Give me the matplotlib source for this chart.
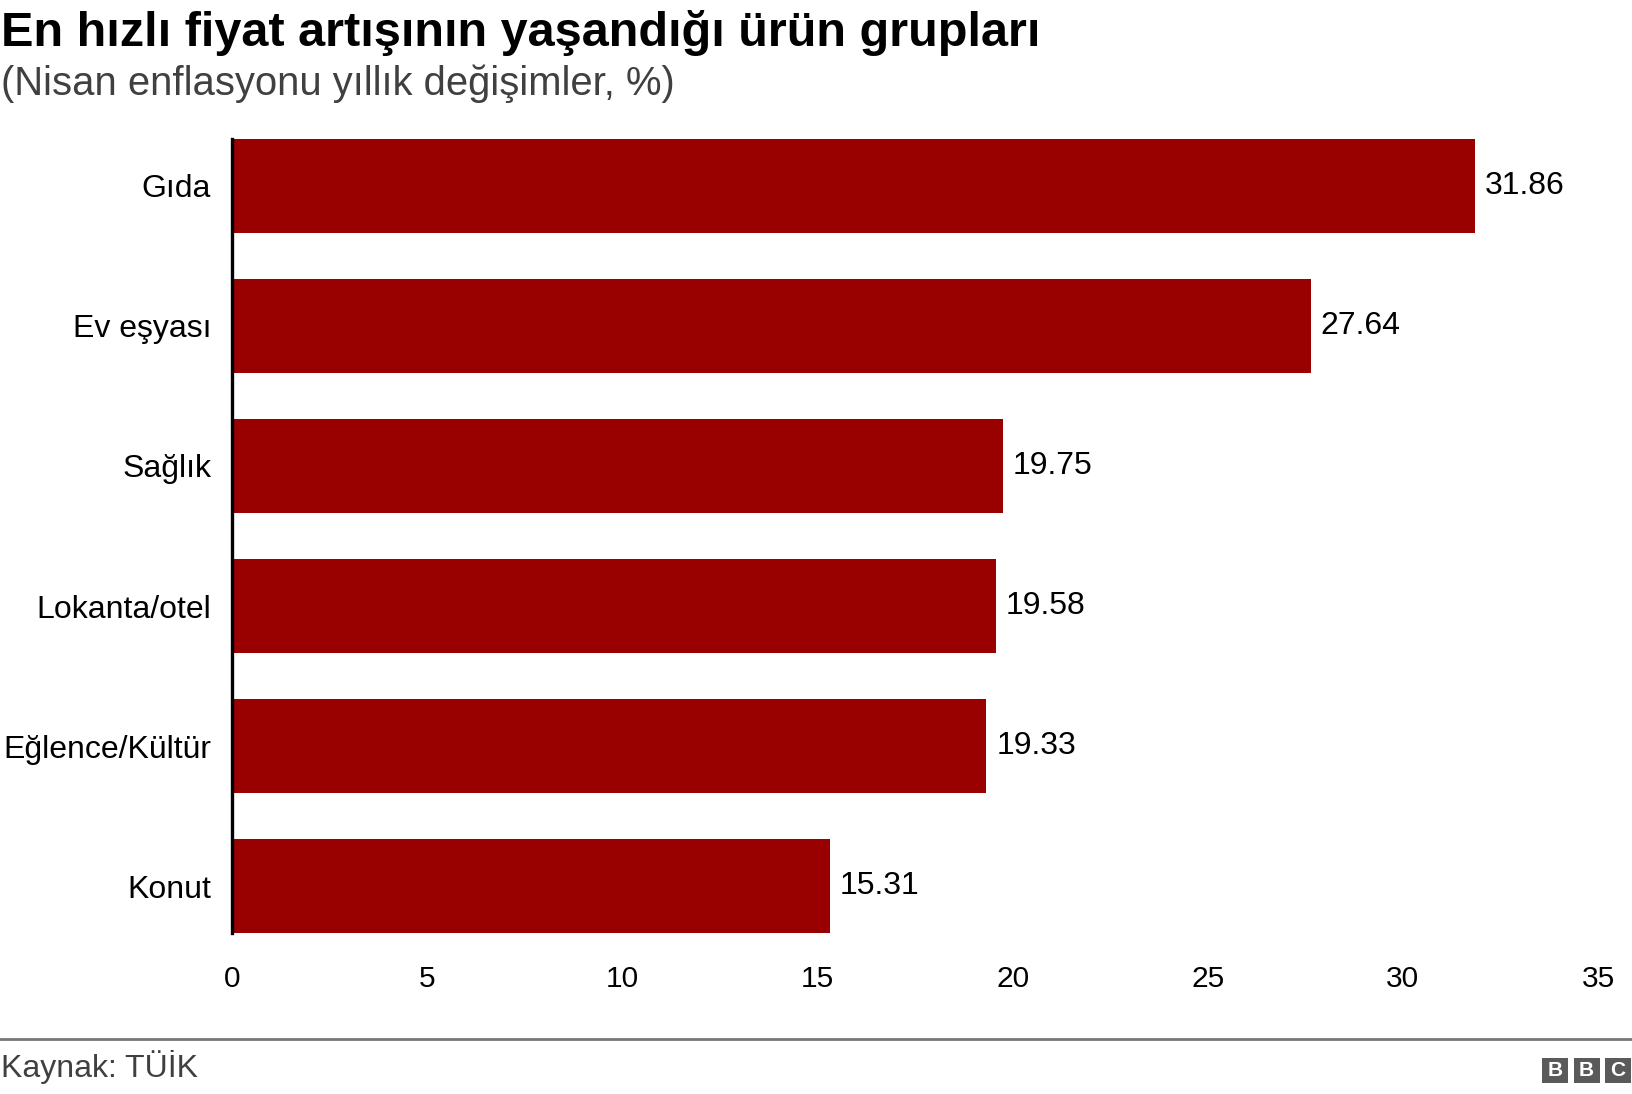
import numpy as np
import matplotlib
matplotlib.use('Agg')
import matplotlib.pyplot as plt
from matplotlib.patches import Rectangle
from matplotlib.lines import Line2D

# Data
categories = ['Gıda', 'Ev eşyası', 'Sağlık', 'Lokanta/otel', 'Eğlence/Kültür', 'Konut']
values = [31.86, 27.64, 19.75, 19.58, 19.33, 15.31]
xticks = [0, 5, 10, 15, 20, 25, 30, 35]

title = 'En hızlı fiyat artışının yaşandığı ürün grupları'
subtitle = '(Nisan enflasyonu yıllık değişimler, %)'
source = 'Kaynak: TÜİK'

plt.rcParams['font.family'] = ['Liberation Sans', 'DejaVu Sans']

W, H = 1632, 1094
fig = plt.figure(figsize=(W / 100, H / 100), dpi=100)

ax = fig.add_axes([232 / W, 1 - 933 / H, (1598 - 232) / W, (933 - 139) / H])

ypos = np.arange(len(categories))
ax.barh(ypos, values, height=0.67, color='#990000', zorder=2)
ax.set_ylim(len(categories) - 1 + 0.335, -0.335)
ax.set_xlim(0, 35)

for y, v in zip(ypos, values):
    ax.text(v + 0.25, y, f'{v:.2f}', va='center', ha='left', fontsize=23, color='black')

ax.set_yticks(ypos)
ax.set_yticklabels(categories, fontsize=23, color='black')
ax.set_xticks(xticks)
ax.set_xticklabels([str(t) for t in xticks], fontsize=21.5, color='black')
ax.tick_params(axis='y', length=0, pad=15)
ax.tick_params(axis='x', length=0, pad=23)

for s in ['top', 'right', 'bottom']:
    ax.spines[s].set_visible(False)
ax.spines['left'].set_linewidth(2.4)
ax.spines['left'].set_color('black')
ax.spines['left'].set_zorder(3)

# Titles
fig.text(1 / W, 1 - 46 / H, title, fontsize=35, fontweight='bold', va='baseline', ha='left', color='black')
fig.text(1 / W, 1 - 95 / H, subtitle, fontsize=28.8, va='baseline', ha='left', color='#404040')

# Footer line and source
fig.add_artist(Line2D([0, 1], [1 - 1039 / H] * 2, color='#777777', linewidth=2, transform=fig.transFigure))
fig.text(1 / W, 1 - 1077 / H, source, fontsize=23, va='baseline', ha='left', color='#404040')

# BBC blocks
for i, letter in enumerate('BBC'):
    x0 = 1542 + i * 31.5
    fig.add_artist(Rectangle((x0 / W, 1 - 1083 / H), 26 / W, 25 / H, transform=fig.transFigure,
                             facecolor='#5a5a5a', edgecolor='none'))
    fig.text((x0 + 13) / W, 1 - 1070.5 / H, letter, fontsize=15, fontweight='bold', color='white',
             ha='center', va='center')

fig.savefig('out.png', dpi=100)
